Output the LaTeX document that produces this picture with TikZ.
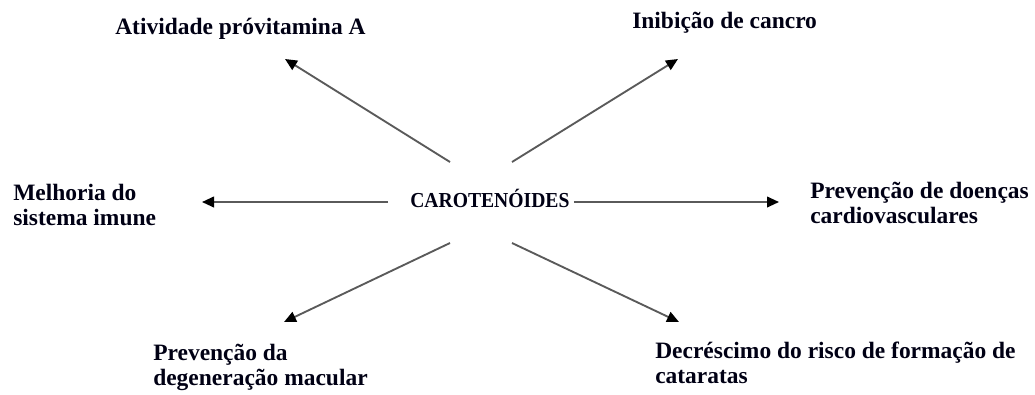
\documentclass[tikz,border=0pt]{standalone}
\usepackage{fontspec}
\setmainfont{Liberation Serif}
\usetikzlibrary{arrows.meta}
\begin{document}
\begin{tikzpicture}[x=0.75pt,y=-0.75pt,
  lbl/.style={font=\bfseries\fontsize{17.6pt}{18.75pt}\selectfont, text=black!92!blue, inner sep=0pt, align=left, anchor=base west},
  arr/.style={draw={rgb,255:red,90;green,90;blue,90}, line width=1.4pt, -{Triangle[length=9pt,width=8pt,fill=black,color=black]}}]
\useasboundingbox (0,0) rectangle (1035,394);
\node[lbl, font=\bfseries\fontsize{16pt}{18.75pt}\selectfont] (carot) at (410,207) {\scalebox{0.92}[1]{CAROTENÓIDES}};
\node[lbl] (ativ) at (115,34) {Atividade próvitamina A};
\node[lbl] (inib) at (632,28) {Inibição de cancro};
\node[lbl] (melh) at (13,225) {Melhoria do\\sistema imune};
\node[lbl] (prevc) at (810,223) {Prevenção de doenças\\cardiovasculares};
\node[lbl] (prevm) at (153,385) {Prevenção da\\degeneração macular};
\node[lbl] (decr) at (655,383) {Decréscimo do risco de formação de\\cataratas};
\coordinate (s1) at (450,162); \coordinate (t1) at (285,59);
\coordinate (s2) at (512,162); \coordinate (t2) at (678,59);
\coordinate (s3) at (388,202); \coordinate (t3) at (202,202);
\coordinate (t4) at (779,202);
\coordinate (s5) at (450,243); \coordinate (t5) at (284,322);
\coordinate (s6) at (512,243); \coordinate (t6) at (679,322);
\draw[arr] (s1) -- (t1);
\draw[arr] (s2) -- (t2);
\draw[arr] (s3) -- (t3);
\draw[arr] ([xshift=3pt]carot.east |- t4) -- (t4);
\draw[arr] (s5) -- (t5);
\draw[arr] (s6) -- (t6);
\end{tikzpicture}
\end{document}
